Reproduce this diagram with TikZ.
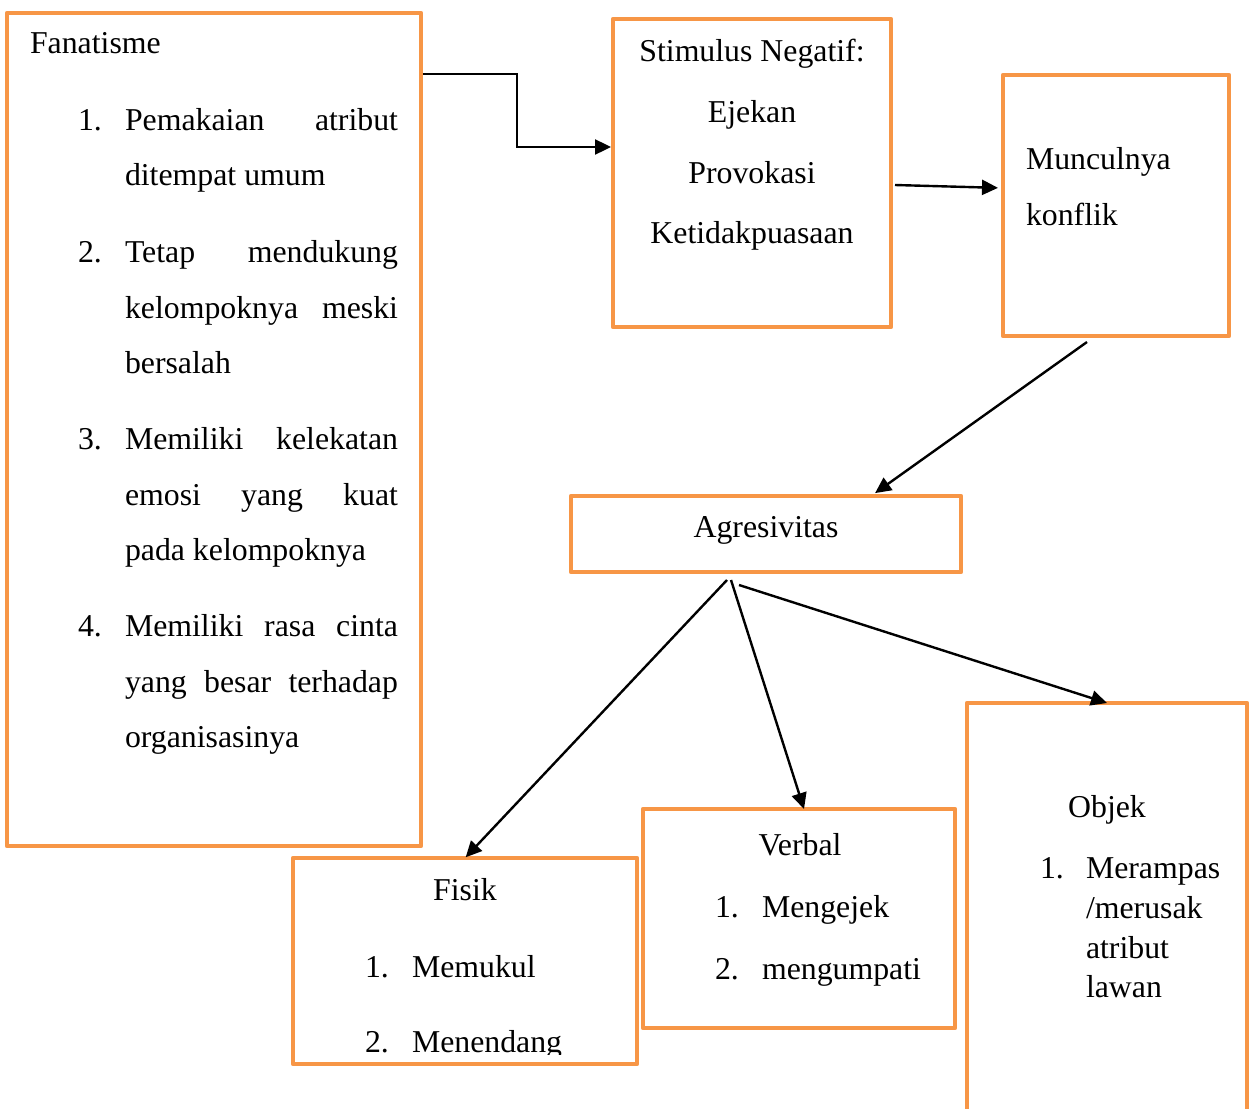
\documentclass[tikz,border=0pt]{standalone}
\usepackage{fontspec}
\setmainfont{Liberation Serif}
\usetikzlibrary{arrows.meta,calc}
\definecolor{boxorange}{RGB}{247,150,70}
\newcommand\justline[1]{\makebox[273pt][s]{#1}}
\begin{document}
\begin{tikzpicture}[x=1pt,y=-1pt,
  box/.style={draw=boxorange, line width=4.8pt, rectangle, inner sep=0pt, outer sep=0pt, line join=round},
  txt/.style={inner sep=0pt, outer sep=0pt, font=\fontsize{31.8}{38}\selectfont},
  tl/.style={txt, anchor=base west},
  tc/.style={txt, anchor=base},
  arr/.style={line width=2.4pt, -{Triangle[length=16pt,width=15pt]}}]
\useasboundingbox (0,0) rectangle (1255,1108);
\fill[white] (0,0) rectangle (1255,1108);

% boxes
\node[box, minimum width=414pt, minimum height=833pt] (fan) at (214,429.5) {};
\node[box, minimum width=278pt, minimum height=308pt] (stim) at (752,173) {};
\node[box, minimum width=226pt, minimum height=261pt] (munc) at (1116,205.5) {};
\node[box, minimum width=390pt, minimum height=76pt] (agr) at (766,534) {};
\node[box, minimum width=344pt, minimum height=206pt] (fisik) at (465,961) {};
\node[box, minimum width=312pt, minimum height=219pt] (verbal) at (799,918.5) {};
\node[box, minimum width=280pt, minimum height=440pt] (objek) at (1107,923) {};

% Fanatisme text
\node[tl] (f0) at (30,54) {Fanatisme};
\node[tl] (f1n) at (78,130) {1.};
\node[tl] (f1a) at (125,130) {\justline{Pemakaian atribut}};
\node[tl] (f1b) at (125,185) {ditempat umum};
\node[tl] (f2n) at (78,262) {2.};
\node[tl] (f2a) at (125,262) {\justline{Tetap mendukung}};
\node[tl] (f2b) at (125,318) {\justline{kelompoknya meski}};
\node[tl] (f2c) at (125,373) {bersalah};
\node[tl] (f3n) at (78,449) {3.};
\node[tl] (f3a) at (125,449) {\justline{Memiliki kelekatan}};
\node[tl] (f3b) at (125,505) {\justline{emosi yang kuat}};
\node[tl] (f3c) at (125,560) {pada kelompoknya};
\node[tl] (f4n) at (78,636) {4.};
\node[tl] (f4a) at (125,636) {\justline{Memiliki rasa cinta}};
\node[tl] (f4b) at (125,692) {\justline{yang besar terhadap}};
\node[tl] (f4c) at (125,747) {organisasinya};

% Stimulus text
\node[tc] (s1) at (752,61.5) {Stimulus Negatif:};
\node[tc] (s2) at (752,122) {Ejekan};
\node[tc] (s3) at (752,183) {Provokasi};
\node[tc] (s4) at (752,243.5) {Ketidakpuasaan};

% Munculnya konflik
\node[tl] (m1) at (1026,169) {Munculnya};
\node[tl] (m2) at (1026,225) {konflik};

% Agresivitas
\node[tc] (ag) at (766,537) {Agresivitas};

% Fisik
\node[tc] (fi0) at (465,900) {Fisik};
\node[tl] (fi1n) at (365,977) {1.};
\node[tl] (fi1) at (412,977) {Memukul};
\begin{scope}
\clip (293,858) rectangle (637,1054);
\node[tl] (fi2n) at (365,1052) {2.};
\node[tl] (fi2) at (412,1052) {Menendang};
\end{scope}

% Verbal
\node[tc] (v0) at (800,855) {Verbal};
\node[tl] (v1n) at (715,917) {1.};
\node[tl] (v1) at (762,917) {Mengejek};
\node[tl] (v2n) at (715,979) {2.};
\node[tl] (v2) at (762,979) {mengumpati};

% Objek
\node[tc] (o0) at (1107,817) {Objek};
\node[tl] (o1n) at (1040,878) {1.};
\node[tl] (o1) at (1086,878) {Merampas};
\node[tl] (o2) at (1086,918) {/merusak};
\node[tl] (o3) at (1086,958) {atribut};
\node[tl] (o4) at (1086,997) {lawan};

% connectors
\coordinate (a1s) at (423,74);
\coordinate (a1c) at (517,147);
\draw[arr, shorten >=2pt] (a1s) -| (a1c) -- (stim.west |- a1c);

\coordinate (a2s) at (895,185);
\coordinate (a2y) at (0,188);
\draw[arr, shorten >=5pt] (a2s) -- (munc.west |- a2y);

\coordinate (a3s) at (1087,342);
\draw[arr, shorten >=5pt] (a3s) -- ($(agr.north west)+(300,0)$);

\coordinate (a4s) at (727,580);
\draw[arr, shorten >=1pt] (a4s) -- (fisik.north);

\coordinate (a5s) at (731,580);
\draw[arr] (a5s) -- ($(verbal.north)+(5,0)$);

\coordinate (a6s) at (739,585);
\draw[arr] (a6s) -- (objek.north);
\end{tikzpicture}
\end{document}
